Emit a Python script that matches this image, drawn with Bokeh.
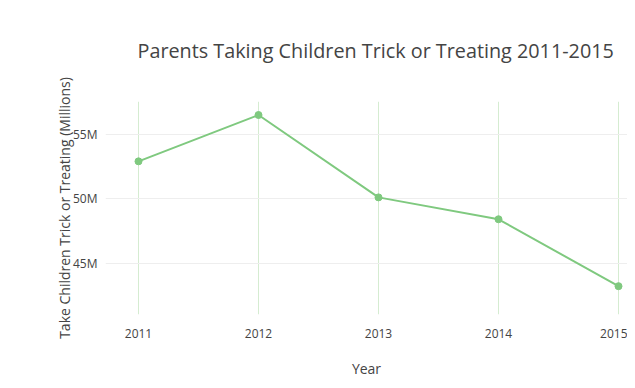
from bokeh.plotting import figure
from bokeh.models import Range1d, FixedTicker, CustomJSTickFormatter, Title
from bokeh.embed import file_html
from bokeh.resources import INLINE

years = [2011, 2012, 2013, 2014, 2015]
parents_millions = [52.9, 56.5, 50.1, 48.4, 43.2]
y_ticks = [45, 50, 55]
title_text = "Parents Taking Children Trick or Treating 2011-2015"

line_color = "#7fc97f"

p = figure(width=627, height=380, output_backend="svg", toolbar_location=None,
           x_range=Range1d(2010.725, 2015.075), y_range=Range1d(41.0, 57.55),
           min_border_left=105, min_border_right=0, min_border_top=100, min_border_bottom=62)
p.outline_line_color = None
p.background_fill_color = "white"
p.border_fill_color = "white"

p.title = Title(text=title_text,
                text_font="Open Sans", text_font_size="19.8px", text_color="#444444",
                text_font_style="normal", offset=32, standoff=72, vertical_align="top")

p.line(years, parents_millions, line_color=line_color, line_width=2)
p.scatter(years, parents_millions, size=7, fill_color=line_color, line_color=line_color)

p.xaxis.ticker = FixedTicker(ticks=years)
p.yaxis.ticker = FixedTicker(ticks=y_ticks)
p.yaxis.formatter = CustomJSTickFormatter(code="return tick + 'M';")

for ax in (p.xaxis[0], p.yaxis[0]):
    ax.axis_line_color = None
    ax.major_tick_line_color = None
    ax.minor_tick_line_color = None
    ax.major_label_text_font = "Open Sans"
    ax.major_label_text_font_size = "12px"
    ax.major_label_text_color = "#444444"
    ax.axis_label_text_font = "Open Sans"
    ax.axis_label_text_font_size = "14px"
    ax.axis_label_text_color = "#444444"
    ax.axis_label_text_font_style = "normal"

p.xaxis.axis_label = "Year"
p.yaxis.axis_label = "Take Children Trick or Treating (Millions)"
p.xaxis.major_label_standoff = 8
p.yaxis.major_label_standoff = 2
p.xaxis.axis_label_standoff = 18
p.yaxis.axis_label_standoff = -4

p.xgrid.grid_line_color = "#d5ecd1"
p.xgrid.grid_line_width = 1
p.ygrid.grid_line_color = "#eeeeee"
p.ygrid.grid_line_width = 1

open("out.html", "w").write(file_html(p, INLINE))
